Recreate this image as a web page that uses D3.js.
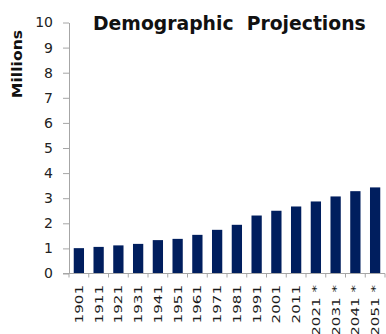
<!DOCTYPE html>
<html>
<head>
<meta charset="utf-8">
<script src="https://cdn.jsdelivr.net/npm/d3@7"></script>
<style>
  html, body { margin: 0; padding: 0; background: #fff; }
  svg { display: block; font-family: "DejaVu Sans", Verdana, sans-serif; }
</style>
</head>
<body>
<svg id="chart" width="386" height="334"></svg>
<script>
// Census years (starred ones are projections) and population in millions
const years = ["1901", "1911", "1921", "1931", "1941", "1951", "1961", "1971", "1981",
               "1991", "2001", "2011", "2021 *", "2031 *", "2041 *", "2051 *"];
const population = [1.01, 1.06, 1.12, 1.18, 1.33, 1.38, 1.54, 1.74, 1.94,
                    2.31, 2.50, 2.67, 2.87, 3.07, 3.28, 3.43];
const yTicks = [0, 1, 2, 3, 4, 5, 6, 7, 8, 9, 10];

const svg = d3.select("#chart");
const plotLeft = 69, plotRight = 385, plotTop = 22.5, plotBottom = 273.5;
const axisColor = "#a6a6a6";
const barColor = "#001e5e";

const x = d3.scaleBand().domain(years).range([plotLeft, plotRight]).paddingInner(0.48).paddingOuter(0.24);
const y = d3.scaleLinear().domain([0, 10]).range([plotBottom, plotTop]);

// Bars
svg.append("g")
  .selectAll("rect")
  .data(years)
  .join("rect")
    .attr("x", d => x(d))
    .attr("width", x.bandwidth())
    .attr("y", (d, i) => y(population[i]))
    .attr("height", (d, i) => y(0) - y(population[i]))
    .attr("fill", barColor);

// Y axis
const yAxis = svg.append("g")
  .attr("transform", `translate(${plotLeft},0)`)
  .call(d3.axisLeft(y).tickValues(yTicks).tickSize(6).tickPadding(10).tickSizeOuter(0));
yAxis.select(".domain").attr("stroke", axisColor);
yAxis.selectAll(".tick line").attr("stroke", axisColor);
yAxis.selectAll(".tick text")
  .attr("fill", "#222")
  .style("font-size", "14px")
  .style("font-family", "'DejaVu Sans', Verdana, sans-serif");

// X axis: ticks sit on the band boundaries
const gap = (x.step() - x.bandwidth()) / 2;
const bounds = years.map(d => x(d) - gap).concat([plotRight]);
const xg = svg.append("g");
xg.append("line")
  .attr("x1", plotLeft - 6).attr("x2", plotRight)
  .attr("y1", plotBottom).attr("y2", plotBottom)
  .attr("stroke", axisColor);
xg.selectAll("line.tick")
  .data(bounds)
  .join("line")
    .attr("class", "tick")
    .attr("x1", d => d).attr("x2", d => d)
    .attr("y1", plotBottom).attr("y2", plotBottom + 4)
    .attr("stroke", axisColor);

// Rotated category labels
xg.selectAll("text")
  .data(years)
  .join("text")
    .attr("transform", d => `translate(${x(d) + x.bandwidth() / 2},${plotBottom + 11.5}) rotate(-90) scale(1.4,1)`)
    .attr("text-anchor", "end")
    .attr("dy", "0.37em")
    .attr("fill", "#1a1a1a")
    .style("font-size", "10.8px")
    .style("white-space", "pre")
    .text(d => d);

// Y axis title
svg.append("text")
  .attr("transform", "translate(21.5,64) rotate(-90) scale(1.12,1)")
  .attr("text-anchor", "middle")
  .attr("font-weight", "bold")
  .attr("fill", "#111")
  .style("font-size", "14px")
  .text("Millions");

// Chart title
svg.append("text")
  .attr("x", 93)
  .attr("y", 30)
  .attr("font-weight", "bold")
  .attr("fill", "#111")
  .style("font-size", "18.8px")
  .style("white-space", "pre")
  .text("Demographic  Projections");
</script>
</body>
</html>
